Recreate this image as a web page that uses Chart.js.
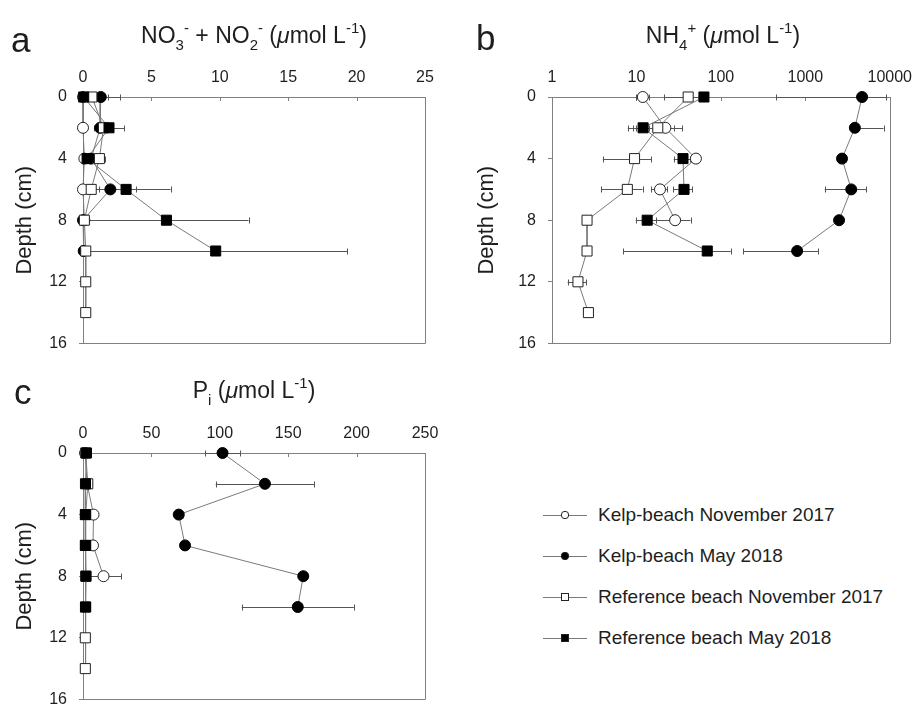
<!DOCTYPE html>
<html>
<head>
<meta charset="utf-8">
<script src="https://cdn.jsdelivr.net/npm/chart.js@4/dist/chart.umd.min.js"></script>
<style>
  html, body { margin:0; padding:0; background:#fff; overflow:hidden; }
  #wrap { position:relative; width:922px; height:705px; overflow:hidden; background:#fff;
          font-family:"Liberation Sans", Arial, sans-serif; color:#1e1e1e; }
  canvas { position:absolute; }
  .lbl { position:absolute; font-size:35px; line-height:35px; }
  .ttl { position:absolute; font-size:23px; line-height:23px; white-space:nowrap; transform:translateX(-50%); }
  .sb { position:relative; top:7px; font-size:15px; }
  .sp { position:relative; top:-10px; font-size:15px; }
  .leg { position:absolute; font-size:19px; line-height:20px; white-space:nowrap; }
  .leg svg { position:absolute; left:0; top:0; }
  .leg span { position:absolute; left:55px; top:0; }
</style>
</head>
<body>
<div id="wrap">
  <canvas id="ca" width="460" height="365" style="left:0;top:0"></canvas>
  <canvas id="cb" width="462" height="365" style="left:460px;top:0"></canvas>
  <canvas id="cc" width="460" height="366" style="left:0;top:355px"></canvas>

  <div class="lbl" style="left:11px;top:22px">a</div>
  <div class="lbl" style="left:476px;top:20px">b</div>
  <div class="lbl" style="left:14px;top:374px">c</div>

  <div class="ttl" style="left:254px;top:24px">NO<span class="sb">3</span><span class="sp">-</span> + NO<span class="sb">2</span><span class="sp">-</span> (<i>μ</i>mol L<span class="sp">-1</span>)</div>
  <div class="ttl" style="left:723px;top:24px">NH<span class="sb">4</span><span class="sp">+</span> (<i>μ</i>mol L<span class="sp">-1</span>)</div>
  <div class="ttl" style="left:254px;top:379px">P<span class="sb">i</span> (<i>μ</i>mol L<span class="sp">-1</span>)</div>

  <div id="legend"></div>
</div>
<script>
// ---------- data ----------
const depthKN = [0, 2, 4, 6, 8];
const depthKM = [0, 2, 4, 6, 8, 10];
const depthRN = [0, 2, 4, 6, 8, 10, 12, 14];
const depthRM = [0, 2, 4, 6, 8, 10];

const seriesNames = ['Kelp-beach November 2017', 'Kelp-beach May 2018',
                     'Reference beach November 2017', 'Reference beach May 2018'];

// Panel a: NO3- + NO2- (umol/L), mean and error
const noxKN    = [0.0, 0.0, 0.1, 0.0, 0.1];
const noxKNerr = [0.1, 0.2, 0.2, 0.1, 0.1];
const noxKM    = [1.3, 1.25, 0.6, 2.0, 0.0, 0.05];
const noxKMerr = [1.4, 0.3, 0.2, 1.9, 0.1, 0.1];
const noxRN    = [0.65, 1.5, 1.2, 0.6, 0.1, 0.2, 0.2, 0.2];
const noxRNerr = [1.15, 0.4, 0.4, 0.6, 0.1, 0.1, 0.1, 0.1];
const noxRM    = [0.05, 1.9, 0.3, 3.15, 6.1, 9.7];
const noxRMerr = [0.1, 1.1, 0.3, 3.25, 6.0, 9.6];

// Panel b: NH4+ (umol/L)
const nhKN    = [11.9, 22, 50.6, 19, 28.7];
const nhKNerr = [2.1, 13, 5, 4, 15];
const nhKM    = [4700, 3860, 2720, 3500, 2510, 800];
const nhKMerr = [4250, 4580, 300, 1800, 200, 615];
const nhRN    = [41, 17.9, 9.5, 7.8, 2.6, 2.6, 2.03, 2.7];
const nhRNerr = [20, 10, 5.5, 4, 0.1, 0.1, 0.5, 0.1];
const nhRM    = [63, 12, 35.6, 36.6, 13.4, 69];
const nhRMerr = [5, 2, 8, 9.5, 3.6, 62];

// Panel c: Pi (umol/L)
const piKN    = [1.5, 3.0, 7.7, 7.3, 15];
const piKNerr = [0.5, 1, 1, 1, 13];
const piKM    = [102, 133, 70, 74.6, 161, 157];
const piKMerr = [13, 36, 3, 3, 3, 41];
const piRN    = [2.0, 3.5, 2.0, 2.0, 2.0, 2.0, 1.7, 1.7];
const piRNerr = [0.5, 0.5, 0.5, 0.5, 0.5, 0.5, 0.5, 0.5];
const piRM    = [2.5, 1.8, 1.7, 1.7, 2.2, 1.8];
const piRMerr = [0.5, 0.5, 0.5, 0.5, 0.5, 0.5];

const depthTicks = [0, 4, 8, 12, 16];
const nhTicks = [1, 10, 100, 1000, 10000];

// ---------- styling ----------
const FONT = '"Liberation Sans", Arial, sans-serif';
const TXT = '#1e1e1e';
const AX = '#808080';

const styles = [
  { pointStyle:'circle', pointRadius:5.5, pointBackgroundColor:'#fff', pointBorderColor:'#222', order:4 },
  { pointStyle:'circle', pointRadius:5.5, pointBackgroundColor:'#000', pointBorderColor:'#000', order:3 },
  { pointStyle:'rect',   pointRadius:7.1, pointBackgroundColor:'#fff', pointBorderColor:'#222', order:2 },
  { pointStyle:'rect',   pointRadius:7.1, pointBackgroundColor:'#000', pointBorderColor:'#000', order:1 }
];

function mkDataset(idx, values, errs, depths) {
  return Object.assign({
    label: seriesNames[idx],
    data: depths.map((d, i) => ({ x: values[i], y: d })),
    errors: errs,
    showLine: true,
    borderColor: '#7a7a7a',
    borderWidth: 1,
    pointBorderWidth: 1,
    pointHoverRadius: 5.5,
    clip: false,
    tension: 0
  }, styles[idx]);
}

const framePlugin = {
  id: 'frameAndErrors',
  beforeDatasetsDraw(chart) {
    const { ctx, chartArea: a, scales: { x, y } } = chart;
    ctx.save();
    ctx.strokeStyle = AX;
    ctx.lineWidth = 1;
    ctx.beginPath();
    const r = Math.round(a.right) + 0.5, b = Math.round(a.bottom) + 0.5;
    ctx.moveTo(r, Math.round(a.top));
    ctx.lineTo(r, b);
    ctx.lineTo(Math.round(a.left), b);
    x.ticks.forEach(t => {
      const px = Math.round(x.getPixelForValue(t.value)) + 0.5;
      ctx.moveTo(px, a.top);
      ctx.lineTo(px, a.top + 4);
    });
    ctx.stroke();

    // error bars
    ctx.strokeStyle = '#555';
    const isLog = x.type === 'logarithmic';
    chart.data.datasets.forEach(ds => {
      ds.data.forEach((p, i) => {
        const e = ds.errors[i];
        if (!e) return;
        const py = Math.round(y.getPixelForValue(p.y)) + 0.5;
        const pc = x.getPixelForValue(p.x);
        const hi = p.x + e, lo = p.x - e;
        let pxHi = Math.min(x.getPixelForValue(hi), a.right);
        let pxLo, capLo = true;
        if (isLog && lo <= 0) { pxLo = pc; capLo = false; }
        else {
          pxLo = x.getPixelForValue(lo);
          if (pxLo < a.left) { pxLo = a.left; capLo = false; }
        }
        ctx.beginPath();
        ctx.moveTo(pxLo, py); ctx.lineTo(pxHi, py);
        const ch = Math.round(pxHi) + 0.5;
        ctx.moveTo(ch, py - 3); ctx.lineTo(ch, py + 3);
        if (capLo) { const cl = Math.round(pxLo) + 0.5; ctx.moveTo(cl, py - 3); ctx.lineTo(cl, py + 3); }
        ctx.stroke();
      });
    });
    ctx.restore();
  }
};

function makeChart(id, datasets, xCfg, xTicks, geom) {
  const xScale = Object.assign({
    position: 'top',
    grid: { display: true, drawOnChartArea: false, drawTicks: false, color: AX },
    border: { display: true, color: AX, width: 1 },
    afterFit: s => { s.height = geom.top; }
  }, xCfg);
  xScale.ticks = Object.assign(
    { font: { family: FONT, size: 16 }, color: TXT, padding: 10, autoSkip: false, maxRotation: 0 },
    xTicks);
  return new Chart(document.getElementById(id), {
    type: 'scatter',
    data: { datasets },
    options: {
      responsive: false,
      animation: false,
      events: [],
      layout: { padding: { left: geom.padLeft, top: 0, right: geom.padRight, bottom: 1 } },
      plugins: { legend: { display: false }, tooltip: { enabled: false } },
      scales: {
        x: xScale,
        y: {
          type: 'linear', reverse: true, min: 0, max: 16,
          afterBuildTicks: s => { s.ticks = depthTicks.map(v => ({ value: v })); },
          ticks: { font: { family: FONT, size: 16 }, color: TXT, padding: 12 },
          grid: { display: true, drawOnChartArea: false, drawTicks: true, tickLength: 4, color: AX },
          border: { display: true, color: AX, width: 1 },
          title: { display: true, text: 'Depth (cm)', color: TXT, font: { family: FONT, size: 22 }, padding: 0 },
          afterFit: s => { s.width = geom.yWidth; }
        }
      }
    },
    plugins: [framePlugin]
  });
}

// Panel a
makeChart('ca', [
  mkDataset(0, noxKN, noxKNerr, depthKN),
  mkDataset(1, noxKM, noxKMerr, depthKM),
  mkDataset(2, noxRN, noxRNerr, depthRN),
  mkDataset(3, noxRM, noxRMerr, depthRM)
], { type: 'linear', min: 0, max: 25 }, { stepSize: 5 },
   { top: 97, padLeft: 12, yWidth: 71, padRight: 35 });

// Panel b
makeChart('cb', [
  mkDataset(0, nhKN, nhKNerr, depthKN),
  mkDataset(1, nhKM, nhKMerr, depthKM),
  mkDataset(2, nhRN, nhRNerr, depthRN),
  mkDataset(3, nhRM, nhRMerr, depthRM)
], { type: 'logarithmic', min: 1, max: 10000,
     afterBuildTicks: s => { s.ticks = nhTicks.map(v => ({ value: v })); } },
   { callback: v => String(v) },
   { top: 97, padLeft: 14, yWidth: 78, padRight: 28 });

// Panel c
makeChart('cc', [
  mkDataset(0, piKN, piKNerr, depthKN),
  mkDataset(1, piKM, piKMerr, depthKM),
  mkDataset(2, piRN, piRNerr, depthRN),
  mkDataset(3, piRM, piRMerr, depthRM)
], { type: 'linear', min: 0, max: 250 }, { stepSize: 50 },
   { top: 98, padLeft: 12, yWidth: 71, padRight: 35 });

// ---------- legend ----------
const legendRowsY = [505, 546, 587, 628];
const legendHost = document.getElementById('legend');
seriesNames.forEach((name, i) => {
  const st = styles[i];
  const fill = st.pointBackgroundColor;
  const mark = st.pointStyle === 'circle'
    ? `<circle cx="22" cy="10" r="3.7" fill="${fill}" stroke="#222" stroke-width="1"/>`
    : `<rect x="18.5" y="6.5" width="7" height="7" fill="${fill}" stroke="#222" stroke-width="1"/>`;
  const row = document.createElement('div');
  row.className = 'leg';
  row.style.left = '543px';
  row.style.top = legendRowsY[i] + 'px';
  row.innerHTML = `<svg width="44" height="20"><line x1="0" y1="10.5" x2="44" y2="10.5" stroke="#7a7a7a" stroke-width="1"/>${mark}</svg><span>${name}</span>`;
  legendHost.appendChild(row);
});
</script>
</body>
</html>
